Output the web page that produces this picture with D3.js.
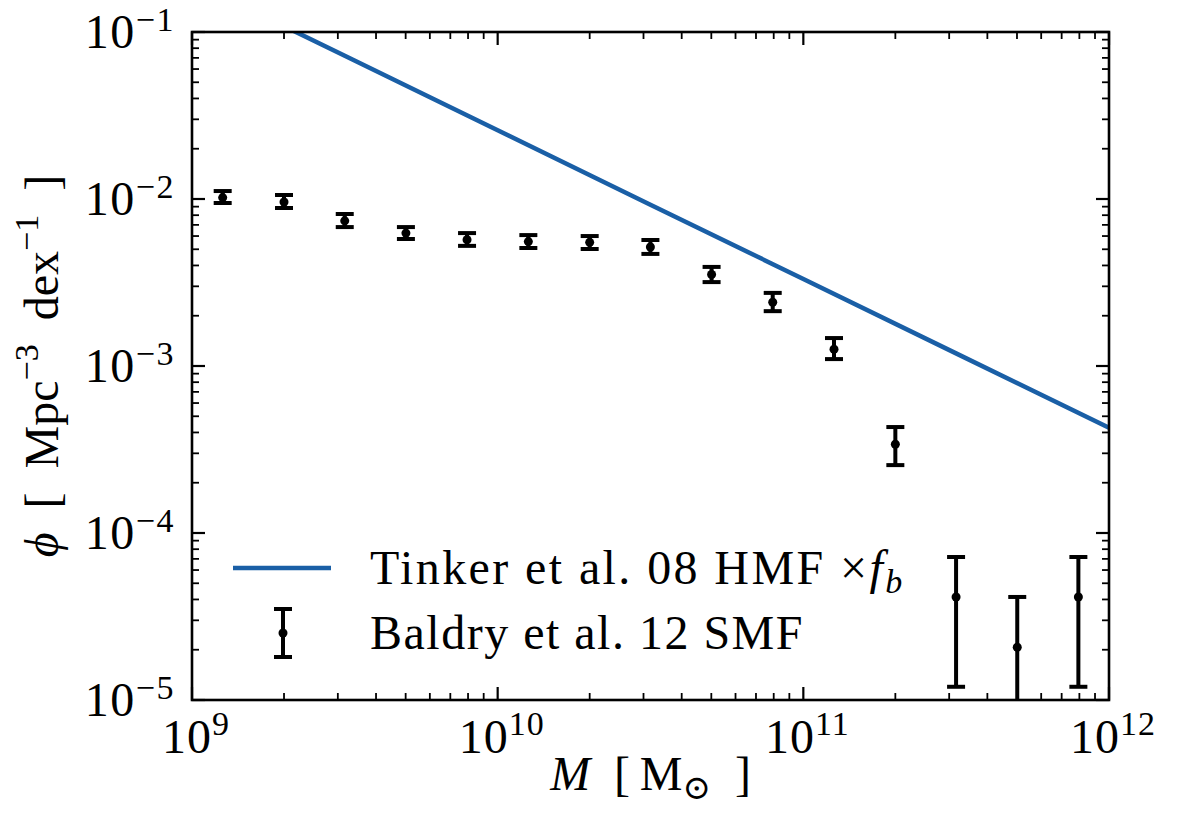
<!DOCTYPE html>
<html>
<head>
<meta charset="utf-8">
<script src="https://cdn.jsdelivr.net/npm/d3@7"></script>
<style>
  body { margin: 0; background: #fff; }
  text { font-family: "Liberation Serif", "DejaVu Serif", serif; fill: #000; }
</style>
</head>
<body>
<svg id="chart" width="1180" height="830"></svg>
<script>
// Baldry et al. 12 stellar mass function
const smfMass = [1.26e9, 2.0e9, 3.16e9, 5.01e9, 7.94e9, 1.26e10, 2.0e10, 3.16e10, 5.01e10, 7.94e10, 1.26e11, 2.0e11, 3.16e11, 5.01e11, 7.94e11];
const smfPhi = [0.0102, 0.0096, 0.0074, 0.00625, 0.0057, 0.00556, 0.0055, 0.00516, 0.00353, 0.00241, 0.00126, 0.00034, 4.14e-5, 2.07e-5, 4.14e-5];
const smfLow = [0.00946, 0.00883, 0.00679, 0.00576, 0.00524, 0.00509, 0.00502, 0.00469, 0.00318, 0.00213, 0.0011, 0.000255, 1.2e-5, 0, 1.2e-5];
const smfHigh = [0.01116, 0.01057, 0.00813, 0.00679, 0.00625, 0.00608, 0.006, 0.00568, 0.00392, 0.00274, 0.00147, 0.000431, 7.18e-5, 4.14e-5, 7.18e-5];

// Tinker et al. 08 HMF x f_b
const hmfMass = [1e9, 3.16e9, 1e10, 3.16e10, 1e11, 3.16e11, 1e12];
const hmfPhi = [0.201, 0.072, 0.0258, 0.00925, 0.00332, 0.00119, 0.000427];

const xTickExp = [9, 10, 11, 12];
const yTickExp = [-1, -2, -3, -4, -5];

const width = 1180, height = 830;
const margin = {top: 32, right: 71, bottom: 130, left: 192};
const innerW = width - margin.left - margin.right;
const innerH = height - margin.top - margin.bottom;
const blue = "#1a5fa6";

const svg = d3.select("#chart");
const g = svg.append("g").attr("transform", `translate(${margin.left},${margin.top})`);

const x = d3.scaleLog().domain([1e9, 1e12]).range([0, innerW]);
const y = d3.scaleLog().domain([1e-5, 1e-1]).range([innerH, 0]);

g.append("clipPath").attr("id", "clip")
  .append("rect").attr("width", innerW).attr("height", innerH);

const plot = g.append("g").attr("clip-path", "url(#clip)");

// HMF line
plot.append("path")
  .datum(hmfMass.map((m, i) => [m, hmfPhi[i]]))
  .attr("fill", "none")
  .attr("stroke", blue)
  .attr("stroke-width", 4.5)
  .attr("d", d3.line().x(d => x(d[0])).y(d => y(d[1])));

// error bars
const capW = 9, ebW = 4;
const bars = plot.selectAll("g.eb")
  .data(smfMass.map((m, i) => ({m, v: smfPhi[i], lo: smfLow[i], hi: smfHigh[i]})))
  .enter().append("g").attr("class", "eb");

bars.append("line")
  .attr("x1", d => x(d.m)).attr("x2", d => x(d.m))
  .attr("y1", d => y(d.hi))
  .attr("y2", d => d.lo > 0 ? y(d.lo) : innerH + 20)
  .attr("stroke", "#000").attr("stroke-width", ebW);
bars.append("line")
  .attr("x1", d => x(d.m) - capW).attr("x2", d => x(d.m) + capW)
  .attr("y1", d => y(d.hi)).attr("y2", d => y(d.hi))
  .attr("stroke", "#000").attr("stroke-width", ebW);
bars.filter(d => d.lo > 0).append("line")
  .attr("x1", d => x(d.m) - capW).attr("x2", d => x(d.m) + capW)
  .attr("y1", d => y(d.lo)).attr("y2", d => y(d.lo))
  .attr("stroke", "#000").attr("stroke-width", ebW);
bars.append("circle")
  .attr("cx", d => x(d.m)).attr("cy", d => y(d.v))
  .attr("r", 4.5).attr("fill", "#000");

// ticks, inward on all four sides
const majLen = 13, minLen = 7;
const xMinor = x.ticks().filter(v => !xTickExp.some(e => Math.abs(Math.log10(v) - e) < 1e-6));
const yMinor = y.ticks().filter(v => !yTickExp.some(e => Math.abs(Math.log10(v) - e) < 1e-6));
const ticks = g.append("g").attr("stroke", "#000");

function xTicks(vals, len, w) {
  vals.forEach(v => {
    ticks.append("line").attr("x1", x(v)).attr("x2", x(v)).attr("y1", innerH).attr("y2", innerH - len).attr("stroke-width", w);
    ticks.append("line").attr("x1", x(v)).attr("x2", x(v)).attr("y1", 0).attr("y2", len).attr("stroke-width", w);
  });
}
function yTicks(vals, len, w) {
  vals.forEach(v => {
    ticks.append("line").attr("y1", y(v)).attr("y2", y(v)).attr("x1", 0).attr("x2", len).attr("stroke-width", w);
    ticks.append("line").attr("y1", y(v)).attr("y2", y(v)).attr("x1", innerW).attr("x2", innerW - len).attr("stroke-width", w);
  });
}
xTicks(xMinor, minLen, 1.8);
yTicks(yMinor, minLen, 1.8);
xTicks(xTickExp.map(e => Math.pow(10, e)), majLen, 2.2);
yTicks(yTickExp.map(e => Math.pow(10, e)), majLen, 2.2);

// frame
g.append("rect").attr("width", innerW).attr("height", innerH)
  .attr("fill", "none").attr("stroke", "#000").attr("stroke-width", 2.6);

// tick labels
const fs = 48, sup = 34;
xTickExp.forEach(e => {
  const t = g.append("text")
    .attr("x", x(Math.pow(10, e)) + 4).attr("y", innerH + 53)
    .attr("text-anchor", "middle").attr("font-size", fs).attr("letter-spacing", 1);
  t.append("tspan").text("10");
  t.append("tspan").attr("dy", -18).attr("font-size", sup).text(e);
});
yTickExp.forEach(e => {
  const t = g.append("text")
    .attr("x", -17).attr("y", y(Math.pow(10, e)) + 16)
    .attr("text-anchor", "end").attr("font-size", fs).attr("letter-spacing", 1.5);
  t.append("tspan").text("10");
  t.append("tspan").attr("dy", -17).attr("font-size", sup).text("\u2212" + (-e));
});

// axis labels
const xl = svg.append("text")
  .attr("x", margin.left + innerW / 2).attr("y", 790)
  .attr("text-anchor", "middle").attr("font-size", fs);
xl.append("tspan").attr("font-style", "italic").text("M");
xl.append("tspan").text("\u2002[\u2009M");
xl.append("tspan").attr("dy", 9).attr("font-size", sup).text("\u2299");
xl.append("tspan").attr("dy", -9).text("\u2002]");

const yl = svg.append("text")
  .attr("transform", `translate(58,${margin.top + innerH / 2}) rotate(-90)`)
  .attr("text-anchor", "middle").attr("font-size", fs);
yl.append("tspan").attr("font-style", "italic").text("\u03d5");
yl.append("tspan").text("\u2002[\u2002Mpc");
yl.append("tspan").attr("dy", -20).attr("font-size", sup).text("\u22123");
yl.append("tspan").attr("dy", 20).text("\u2002dex");
yl.append("tspan").attr("dy", -20).attr("font-size", sup).text("\u22121");
yl.append("tspan").attr("dy", 20).text("\u2002]");

// legend
const lg = svg.append("g");
lg.append("line").attr("x1", 233).attr("x2", 331).attr("y1", 568).attr("y2", 568)
  .attr("stroke", blue).attr("stroke-width", 4.5);
const t1 = lg.append("text").attr("x", 370).attr("y", 584).attr("font-size", fs).attr("letter-spacing", 2.4);
t1.append("tspan").text("Tinker et al. 08 HMF \u00d7");
t1.append("tspan").attr("font-style", "italic").text("f");
t1.append("tspan").attr("font-style", "italic").attr("dy", 9).attr("font-size", sup).text("b");

const ex = 283;
lg.append("line").attr("x1", ex).attr("x2", ex).attr("y1", 609).attr("y2", 657).attr("stroke", "#000").attr("stroke-width", ebW);
lg.append("line").attr("x1", ex - capW).attr("x2", ex + capW).attr("y1", 609).attr("y2", 609).attr("stroke", "#000").attr("stroke-width", ebW);
lg.append("line").attr("x1", ex - capW).attr("x2", ex + capW).attr("y1", 657).attr("y2", 657).attr("stroke", "#000").attr("stroke-width", ebW);
lg.append("circle").attr("cx", ex).attr("cy", 633).attr("r", 4.5).attr("fill", "#000");
lg.append("text").attr("x", 370).attr("y", 649).attr("font-size", fs).attr("letter-spacing", 1.5).text("Baldry et al. 12 SMF");
</script>
</body>
</html>
